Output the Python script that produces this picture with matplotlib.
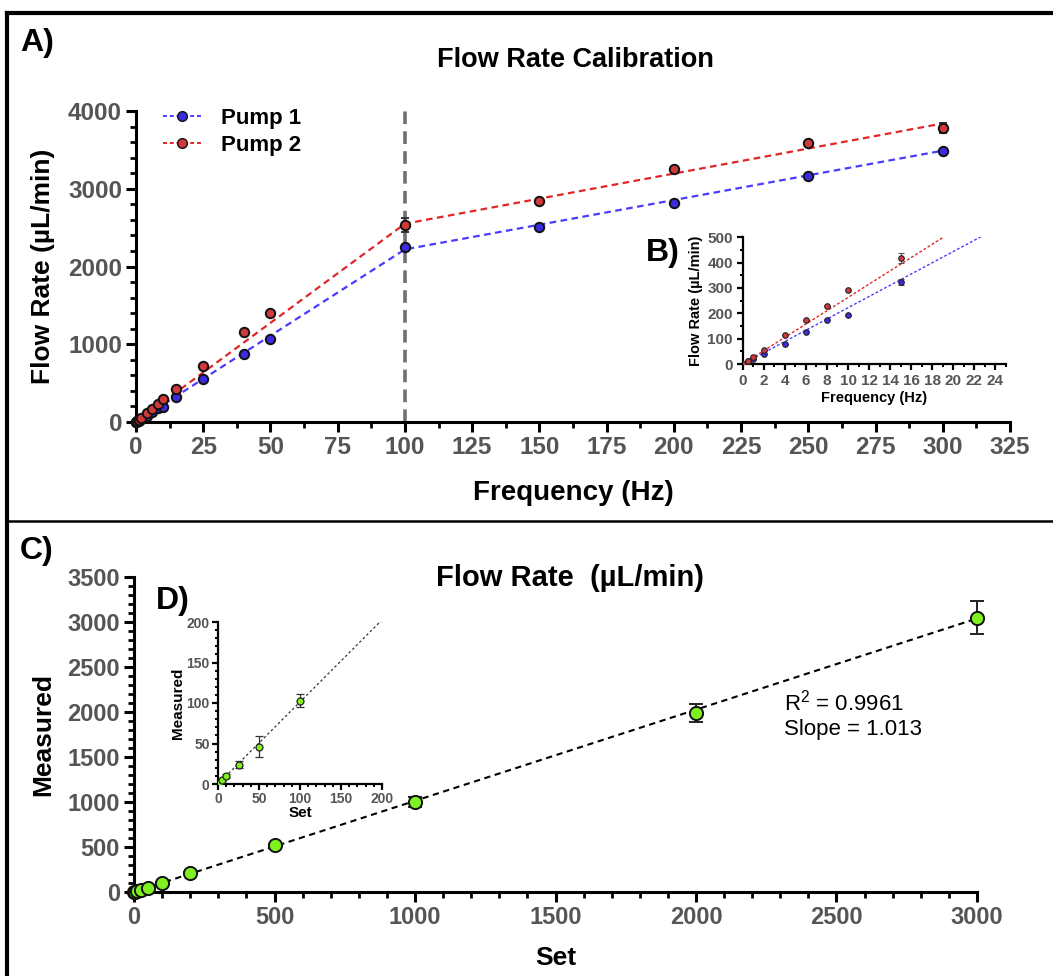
import numpy as np
import matplotlib.pyplot as plt
from matplotlib.lines import Line2D
from matplotlib.ticker import MultipleLocator

plt.rcParams['font.family'] = ['Liberation Sans', 'DejaVu Sans']
plt.rcParams['font.weight'] = 'bold'
plt.rcParams['axes.labelweight'] = 'bold'

# panel A / B data: pump calibration
freq = [0, 0.5, 1, 2, 4, 6, 8, 10, 15, 25, 40, 50, 100, 150, 200, 250, 300]
pump1 = [0, 10, 18, 40, 80, 125, 175, 195, 325, 553, 875, 1067, 2250, 2508, 2817, 3164, 3485]
pump2 = [0, 13, 27, 57, 115, 173, 230, 293, 420, 720, 1157, 1400, 2530, 2842, 3254, 3588, 3781]
pump1_err = [0, 0, 0, 0, 0, 0, 0, 0, 12, 0, 0, 0, 30, 0, 0, 0, 0]
pump2_err = [0, 0, 0, 0, 0, 0, 0, 0, 20, 0, 0, 0, 90, 0, 0, 30, 70]
break_hz = 100
pump1_fit = [22.2, 6.35]   # slope below / above the break (uL/min per Hz)
pump2_fit = [25.5, 6.45]

# panel C / D data: set vs measured
set_vals = [1, 5, 10, 25, 50, 100, 200, 500, 1000, 2000, 3000]
measured = [1, 5, 10, 24, 46, 103, 211, 522, 1005, 1990, 3048]
meas_err = [1, 1, 2, 4, 13, 8, 10, 15, 55, 100, 185]
slope_cd = 1.013
r2_cd = 0.9961

W, H = 1053, 976
fig = plt.figure(figsize=(W / 100, H / 100), dpi=100)


def px_axes(left, right, bottom, top):
    # pixel coords, y measured from top of image
    return fig.add_axes([left / W, 1 - bottom / H, (right - left) / W, (bottom - top) / H])


def style(ax, size, major, minor, lw, pad=3):
    for s in ['top', 'right']:
        ax.spines[s].set_visible(False)
    for s in ['left', 'bottom']:
        ax.spines[s].set_linewidth(lw)
    ax.tick_params(which='major', direction='out', length=major, width=lw,
                   labelsize=size, labelcolor='#555555', pad=pad)
    ax.tick_params(which='minor', direction='out', length=minor, width=lw * 0.9)


def piecewise(fit, xs):
    xs = np.asarray(xs, dtype=float)
    low = fit[0] * xs
    high = fit[0] * break_hz + fit[1] * (xs - break_hz)
    return np.where(xs <= break_hz, low, high)


blue_face, blue_line = '#3a2be0', '#4a3cff'
red_face, red_line = '#d03a3a', '#e02626'

# ---------------- panel A ----------------
axA = px_axes(136, 1010, 422, 111)
style(axA, 17.5, 7, 4, 2.2)
axA.set_xlim(0, 325)
axA.set_ylim(0, 4000)
axA.xaxis.set_major_locator(MultipleLocator(25))
axA.xaxis.set_minor_locator(MultipleLocator(12.5))
axA.yaxis.set_major_locator(MultipleLocator(1000))
axA.yaxis.set_minor_locator(MultipleLocator(200))

axA.axvline(break_hz, color='#707070', lw=2.6, dashes=(3.5, 2), zorder=1)

xs = np.array([0, break_hz, 300])
axA.plot(xs, piecewise(pump1_fit, xs), color=blue_line, lw=1.6, dashes=(3, 2), zorder=2)
axA.plot(xs, piecewise(pump2_fit, xs), color=red_line, lw=1.6, dashes=(3, 2), zorder=2)
axA.errorbar(freq, pump1, yerr=pump1_err, fmt='o', ms=6.8, mfc=blue_face, mec='#111111',
             mew=1.4, ecolor='#333333', elinewidth=1.2, capsize=3, zorder=3, clip_on=False)
axA.errorbar(freq, pump2, yerr=pump2_err, fmt='o', ms=6.8, mfc=red_face, mec='#111111',
             mew=1.4, ecolor='#333333', elinewidth=1.2, capsize=3, zorder=3, clip_on=False)

axA.set_xlabel('Frequency (Hz)', fontsize=20)
axA.xaxis.set_label_coords(0.5, -0.185)
axA.set_ylabel('Flow Rate (µL/min)', fontsize=19)
axA.yaxis.set_label_coords(-0.093, 0.5)

handles = [Line2D([], [], color=blue_line, lw=1.4, dashes=(2, 1.5), marker='o', ms=7,
                  mfc=blue_face, mec='#111111'),
           Line2D([], [], color=red_line, lw=1.4, dashes=(2, 1.5), marker='o', ms=7,
                  mfc=red_face, mec='#111111')]
axA.legend(handles, ['Pump 1', 'Pump 2'], loc='upper left', frameon=False, fontsize=16,
           bbox_to_anchor=(163 / W, 1 - 108 / H), bbox_transform=fig.transFigure,
           handlelength=1.7, handletextpad=0.9, labelspacing=0.25, borderpad=0,
           borderaxespad=0)

fig.text(575 / W, 1 - 60 / H, 'Flow Rate Calibration', ha='center', va='center', fontsize=19.5)
fig.text(20 / W, 1 - 43 / H, 'A)', ha='left', va='center', fontsize=23)

# ---------------- inset B ----------------
axB = px_axes(742.7, 1006, 364, 237.3)
style(axB, 11, 4, 2.5, 1.6)
axB.set_xlim(0, 25)
axB.set_ylim(0, 500)
axB.xaxis.set_major_locator(MultipleLocator(2))
axB.xaxis.set_minor_locator(MultipleLocator(1))
axB.yaxis.set_major_locator(MultipleLocator(100))
axB.yaxis.set_minor_locator(MultipleLocator(50))
xb = np.array([0, 25])
axB.plot(xb, piecewise(pump1_fit, xb), color=blue_line, lw=1.0, dashes=(2, 1.5), zorder=2)
axB.plot(xb, pump2_fit[0] * 1.03 * xb, color=red_line, lw=1.0, dashes=(2, 1.5), zorder=2)
axB.errorbar(freq, pump1, yerr=pump1_err, fmt='o', ms=4, mfc=blue_face, mec='#222222',
             mew=0.8, ecolor='#555555', elinewidth=0.8, capsize=2, zorder=3, clip_on=False)
axB.errorbar(freq, pump2, yerr=pump2_err, fmt='o', ms=4, mfc=red_face, mec='#222222',
             mew=0.8, ecolor='#555555', elinewidth=0.8, capsize=2, zorder=3, clip_on=False)
axB.set_xlabel('Frequency (Hz)', fontsize=10.5)
axB.xaxis.set_label_coords(0.5, -0.21)
axB.set_ylabel('Flow Rate (µL/min)', fontsize=10.5)
axB.yaxis.set_label_coords(-0.15, 0.5)
fig.text(646 / W, 1 - 253 / H, 'B)', ha='left', va='center', fontsize=23)

# ---------------- panel C ----------------
axC = px_axes(134, 977, 892, 577)
style(axC, 17, 7, 4, 2.2)
axC.set_xlim(0, 3000)
axC.set_ylim(0, 3500)
axC.xaxis.set_major_locator(MultipleLocator(500))
axC.xaxis.set_minor_locator(MultipleLocator(100))
axC.yaxis.set_major_locator(MultipleLocator(500))
axC.yaxis.set_minor_locator(MultipleLocator(100))
xc = np.array([0, 3000])
axC.plot(xc, slope_cd * xc, color='black', lw=1.5, dashes=(3, 2.2), zorder=2)
axC.errorbar(set_vals, measured, yerr=meas_err, fmt='o', ms=9.5, mfc='#80f020', mec='#111111',
             mew=1.4, ecolor='#222222', elinewidth=1.4, capsize=5, capthick=1.4,
             zorder=3, clip_on=False)
axC.set_xlabel('Set', fontsize=19)
axC.xaxis.set_label_coords(0.5, -0.17)
axC.set_ylabel('Measured', fontsize=19)
axC.yaxis.set_label_coords(-0.093, 0.5)
axC.text(784 / W, 1 - 735 / H,
         'R$^{\\mathregular{2}}$ = %.4f\nSlope = %.3f' % (r2_cd, slope_cd),
         transform=fig.transFigure, ha='left', va='baseline', fontsize=16,
         fontweight='normal', linespacing=1.2)

fig.text(570 / W, 1 - 578 / H, 'Flow Rate  (µL/min)', ha='center', va='center', fontsize=21)
fig.text(20 / W, 1 - 551 / H, 'C)', ha='left', va='center', fontsize=23)

# ---------------- inset D ----------------
axD = px_axes(218, 382, 784, 622)
style(axD, 10, 4, 2.5, 1.6, pad=2)
axD.set_xlim(0, 200)
axD.set_ylim(0, 200)
axD.xaxis.set_major_locator(MultipleLocator(50))
axD.xaxis.set_minor_locator(MultipleLocator(10))
axD.yaxis.set_major_locator(MultipleLocator(50))
axD.yaxis.set_minor_locator(MultipleLocator(10))
xd = np.array([0, 200])
axD.plot(xd, slope_cd * xd, color='#333333', lw=0.9, dashes=(2, 2), zorder=2)
axD.errorbar(set_vals, measured, yerr=meas_err, fmt='o', ms=5, mfc='#80f020', mec='#222222',
             mew=0.9, ecolor='#333333', elinewidth=0.9, capsize=3, capthick=0.9,
             zorder=3, clip_on=False)
axD.set_xlabel('Set', fontsize=11)
axD.xaxis.set_label_coords(0.5, -0.135)
axD.set_ylabel('Measured', fontsize=11)
axD.yaxis.set_label_coords(-0.2, 0.5)
fig.text(156 / W, 1 - 601 / H, 'D)', ha='left', va='center', fontsize=23)

# hide the points that lie outside the inset ranges
for ax in [axB, axD]:
    for coll in ax.collections + ax.lines:
        coll.set_clip_on(True)

# frame lines around the panels
fig.add_artist(Line2D([7 / W, 1], [1 - 13 / H] * 2, transform=fig.transFigure, color='black', lw=3))
fig.add_artist(Line2D([7 / W] * 2, [0, 1 - 13 / H], transform=fig.transFigure, color='black', lw=3))
fig.add_artist(Line2D([7 / W, 1], [1 - 521 / H] * 2, transform=fig.transFigure, color='black', lw=1.8))

fig.savefig('out.png', dpi=100)
